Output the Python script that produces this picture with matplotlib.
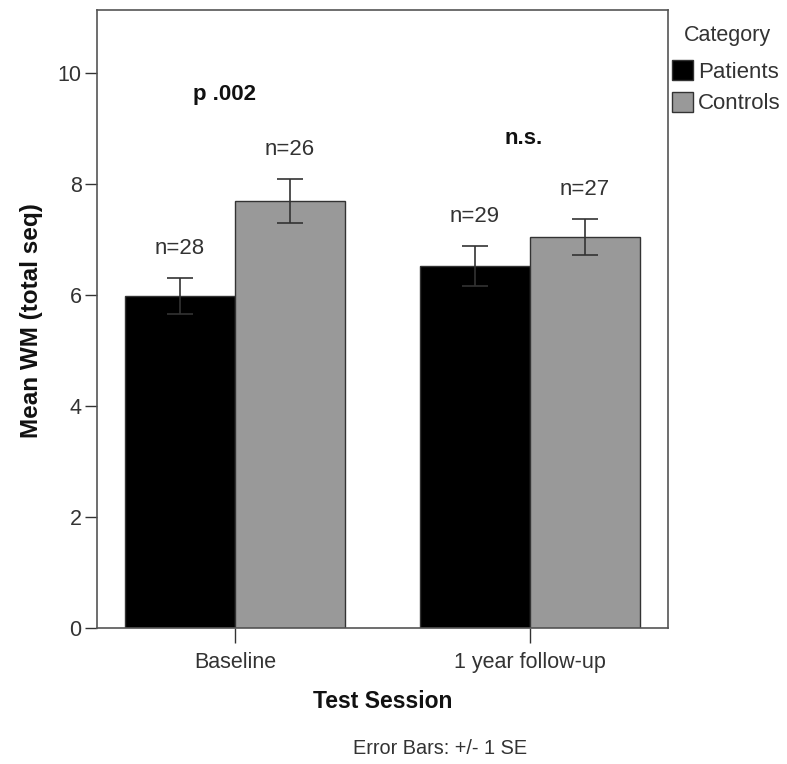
import matplotlib
matplotlib.use("Agg")
import matplotlib.pyplot as plt
import numpy as np
from matplotlib.patches import Patch

sessions = ["Baseline", "1 year follow-up"]
groups = ["Patients", "Controls"]
means_patients = [5.98, 6.52]
means_controls = [7.69, 7.04]
se_patients = [0.32, 0.36]
se_controls = [0.39, 0.33]
n_patients = ["n=28", "n=29"]
n_controls = ["n=26", "n=27"]
sig_labels = ["p .002", "n.s."]
colors = ["#000000", "#999999"]

plt.rcParams["font.family"] = ["Liberation Sans", "DejaVu Sans"]
TXT = "#333333"

fig = plt.figure(figsize=(7.87, 7.64), dpi=100)
ax = fig.add_axes([97/787, 1-628/764, (668-97)/787, (628-10)/764])

x = np.arange(len(sessions))
w = 0.373
ax.bar(x - w/2, means_patients, w, color=colors[0], edgecolor="#333333", linewidth=1.0, zorder=2)
ax.bar(x + w/2, means_controls, w, color=colors[1], edgecolor="#333333", linewidth=1.0, zorder=2)
ekw = dict(fmt="none", ecolor="#333333", elinewidth=1.2, capsize=9.5, capthick=1.2, zorder=3)
ax.errorbar(x - w/2, means_patients, yerr=se_patients, **ekw)
ax.errorbar(x + w/2, means_controls, yerr=se_controls, **ekw)

off = 0.53
for i in range(len(sessions)):
    ax.text(x[i] - w/2, means_patients[i] + se_patients[i] + off, n_patients[i],
            ha="center", va="center", fontsize=16, color=TXT)
    ax.text(x[i] + w/2, means_controls[i] + se_controls[i] + off, n_controls[i],
            ha="center", va="center", fontsize=16, color=TXT)

ax.text(-0.035, 9.6, sig_labels[0], ha="center", va="center", fontsize=16,
        fontweight="bold", color="#111111")
ax.text(0.98, 8.82, sig_labels[1], ha="center", va="center", fontsize=16,
        fontweight="bold", color="#111111")

ax.set_xlim(-0.468, 1.468)
ax.set_ylim(0, 11.13)
ax.set_yticks([0, 2, 4, 6, 8, 10])
ax.set_xticks(x)
ax.set_xticklabels(sessions)
ax.tick_params(axis="both", labelsize=15.5, colors="#333333", labelcolor=TXT, width=1.0, direction="out")
ax.tick_params(axis="y", length=9, pad=2)
ax.tick_params(axis="x", length=11, pad=6)
for s in ax.spines.values():
    s.set_color("#555555")
    s.set_linewidth(1.2)

ax.set_ylabel("Mean WM (total seq)", fontsize=17.5, fontweight="bold", color="#111111")
ax.yaxis.set_label_coords(-(97-32)/571, (628-321)/618)
ax.set_xlabel("Test Session", fontsize=16.5, fontweight="bold", color="#111111")
ax.xaxis.set_label_coords((383-97)/571, -(701-628)/618)
ax.xaxis.label.set_va("center")
ax.yaxis.label.set_va("center")

fig.text(440/787, 1-748/764, "Error Bars: +/- 1 SE", ha="center", va="center",
         fontsize=14.3, color=TXT)

fig.text(727/787, 1-35/764, "Category", ha="center", va="center",
         fontsize=15.5, color=TXT)
handles = [Patch(facecolor=colors[0], edgecolor="#333333"),
           Patch(facecolor=colors[1], edgecolor="#333333")]
leg = fig.legend(handles, groups, loc="upper left",
                 bbox_to_anchor=(670/787, 1-58/764), frameon=False, fontsize=16,
                 handlelength=0.95, handleheight=1.0,
                 handletextpad=0.2, labelspacing=0.4, borderaxespad=0, borderpad=0.1)
for t in leg.get_texts():
    t.set_color(TXT)

fig.savefig("out.png", dpi=100)
